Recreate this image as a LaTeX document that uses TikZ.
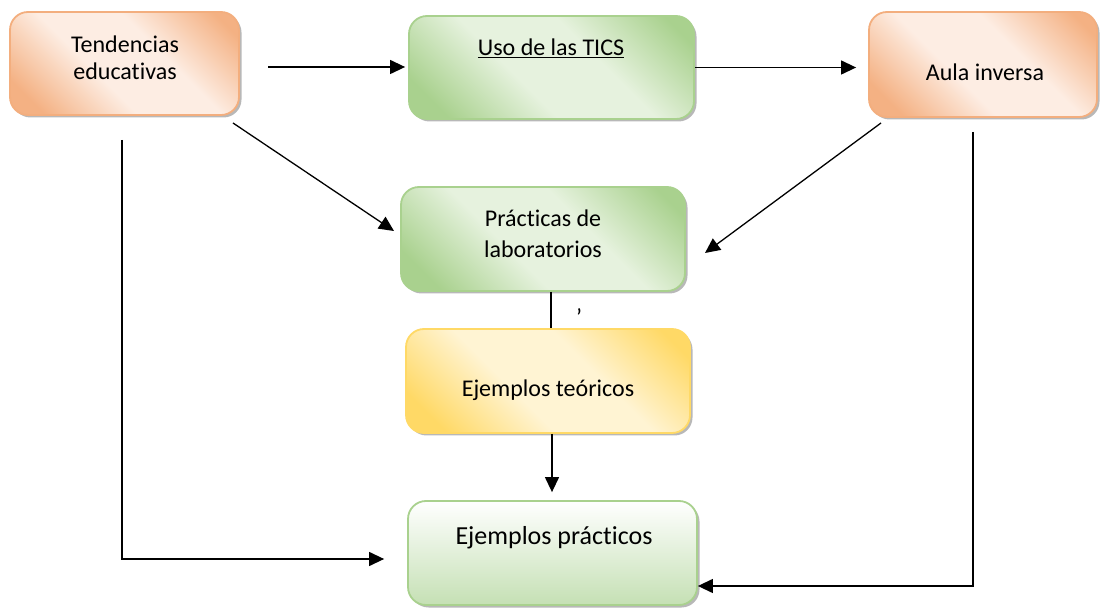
\documentclass[tikz,border=0pt]{standalone}
\usepackage{fontspec}
\setmainfont{Carlito}[Ligatures=NoCommon]
\usetikzlibrary{arrows.meta,shadows,calc}
\definecolor{orD}{HTML}{F4B183}
\definecolor{orL}{HTML}{FDEDE3}
\definecolor{orB}{HTML}{F3AE7E}
\definecolor{grD}{HTML}{A9D18E}
\definecolor{grL}{HTML}{E6F2DE}
\definecolor{grB}{HTML}{A9D18E}
\definecolor{yeD}{HTML}{FFD966}
\definecolor{yeL}{HTML}{FFF4D3}
\definecolor{yeB}{HTML}{FFD966}
\definecolor{grM}{HTML}{C5E0B4}
\pgfdeclarehorizontalshading{orsh}{100bp}{color(0bp)=(orD); color(22bp)=(orD); color(42bp)=(orL); color(60bp)=(orL); color(80bp)=(orD); color(100bp)=(orD)}
\pgfdeclarehorizontalshading{grsh}{100bp}{color(0bp)=(grD); color(22bp)=(grD); color(42bp)=(grL); color(60bp)=(grL); color(80bp)=(grD); color(100bp)=(grD)}
\pgfdeclarehorizontalshading{yesh}{100bp}{color(0bp)=(yeD); color(22bp)=(yeD); color(42bp)=(yeL); color(60bp)=(yeL); color(80bp)=(yeD); color(100bp)=(yeD)}
\tikzset{
  box/.style={rounded corners=18pt, line width=1.8pt, inner sep=0pt,
    drop shadow={shadow xshift=2.5pt, shadow yshift=-2.5pt, fill=black, opacity=0.28}},
  orbox/.style={box, draw=orB, shading=orsh, shading angle=45},
  grbox/.style={box, draw=grB, shading=grsh, shading angle=45},
  yebox/.style={box, draw=yeB, shading=yesh, shading angle=45},
  gvbox/.style={box, draw=grB, top color=white, bottom color=grM},
  txt/.style={inner sep=0pt, anchor=base, font=\fontsize{24}{28}\selectfont},
  arr/.style={line width=1.3pt, -{Triangle[length=15pt,width=14pt]}},
  ln/.style={line width=1.3pt}
}
\begin{document}
\begin{tikzpicture}[x=1pt,y=-1pt]
\useasboundingbox (0,0) rectangle (1104,609);
% boxes
\node[orbox, minimum width=229pt, minimum height=103pt] (ten) at (124.5,63.5) {};
\node[grbox, minimum width=285pt, minimum height=103pt] (tics) at (551.5,67.5) {};
\node[orbox, minimum width=228pt, minimum height=105pt] (aula) at (983,64.5) {};
\node[grbox, minimum width=284pt, minimum height=104pt] (prac) at (543,239) {};
\node[yebox, minimum width=284pt, minimum height=104pt] (teo) at (548,381) {};
\node[gvbox, minimum width=289pt, minimum height=104pt] (ejp) at (552.5,553) {};
% texts
\node[txt] (t1) at (125,53) {Tendencias};
\node[txt] (t2) at (125,80) {educativas};
\node[txt] (t3) at (551,56) {\underline{Uso de las TICS}};
\node[txt] (t4) at (985,81) {Aula inversa};
\node[txt] (t5) at (543,227) {Prácticas de};
\node[txt] (t6) at (543,258) {laboratorios};
\node[txt] (t7) at (548,397) {Ejemplos teóricos};
\node[txt, font=\fontsize{26}{30}\selectfont] (t8) at (554,544) {Ejemplos prácticos};
\node[txt] (t9) at (579,326) {’};
% connectors
\coordinate (a1) at (268,67);
\draw[arr, shorten >=3pt] (a1) -- (a1 -| tics.west);
\draw[arr, shorten >=12pt] (tics.east) -- (tics.east -| aula.west);
\coordinate (d1a) at (233,123);
\coordinate (d1b) at (394,231);
\draw[arr] (d1a) -- (d1b);
\coordinate (d2a) at (881,123);
\coordinate (d2b) at (705,253);
\draw[arr] (d2a) -- (d2b);
\draw[ln] ([xshift=8pt]prac.south) -- ([xshift=3pt]teo.north);
\draw[arr, shorten >=8pt] ([xshift=4pt]teo.south) -- ([xshift=-0.5pt]ejp.north);
\coordinate (l1) at (122,140);
\draw[arr, shorten >=23pt] (l1) |- ([yshift=-6pt]ejp.west);
\coordinate (r1) at (973,132);
\draw[arr] (r1) |- ([yshift=-33pt]ejp.east);
\end{tikzpicture}
\end{document}
